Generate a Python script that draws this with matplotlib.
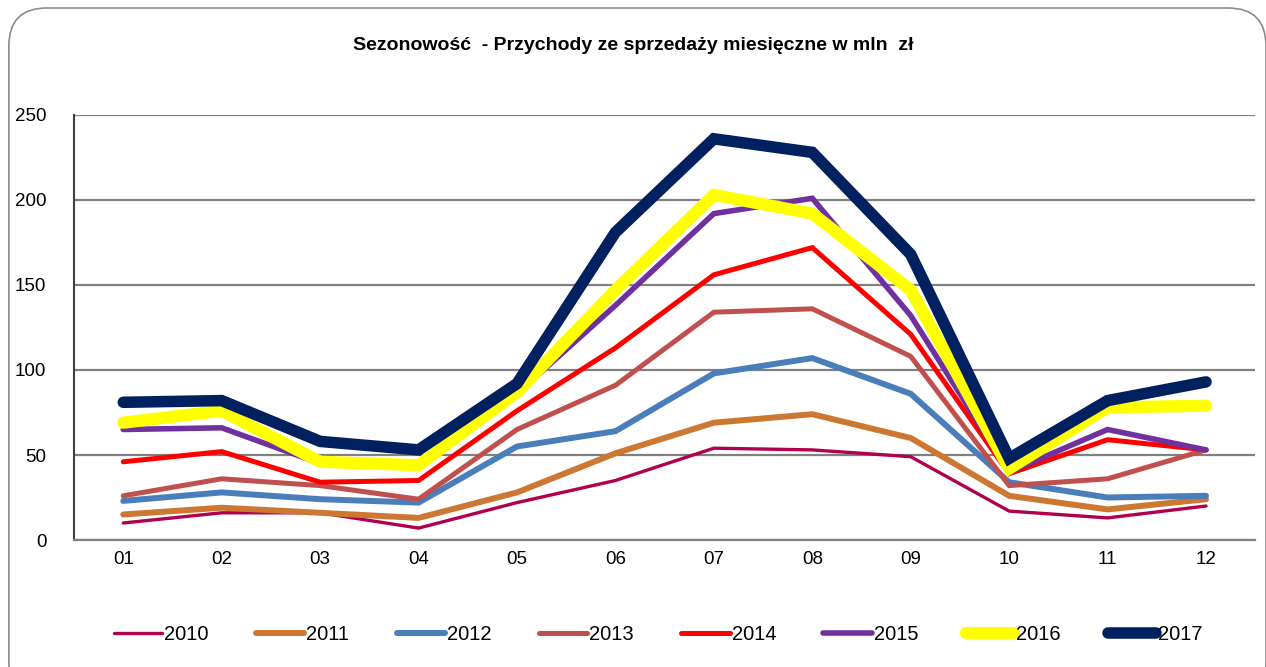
import matplotlib
matplotlib.use('Agg')
import matplotlib.pyplot as plt
from matplotlib.patches import FancyBboxPatch

plt.rcParams['font.family'] = ['Liberation Sans', 'DejaVu Sans']

months = ['01', '02', '03', '04', '05', '06', '07', '08', '09', '10', '11', '12']
years = ['2010', '2011', '2012', '2013', '2014', '2015', '2016', '2017']

v2010 = [10, 16, 16, 7, 22, 35, 54, 53, 49, 17, 13, 20]
v2011 = [15, 19, 16, 13, 28, 51, 69, 74, 60, 26, 18, 24]
v2012 = [23, 28, 24, 22, 55, 64, 98, 107, 86, 34, 25, 26]
v2013 = [26, 36, 32, 24, 65, 91, 134, 136, 108, 32, 36, 53]
v2014 = [46, 52, 34, 35, 76, 113, 156, 172, 121, 39, 59, 53]
v2015 = [65, 66, 45, 43, 86, 138, 192, 201, 132, 40, 65, 53]
v2016 = [69, 76, 46, 44, 87, 147, 203, 192, 147, 42, 78, 79]
v2017 = [81, 82, 58, 53, 92, 181, 236, 228, 168, 48, 82, 93]

series = [v2010, v2011, v2012, v2013, v2014, v2015, v2016, v2017]
colors = ['#B0004E', '#CC7832', '#4A7EBB', '#C0504D', '#FF0000', '#7030A0', '#FFFF00', '#002060']
widths = [2.4, 4.3, 4.3, 3.6, 3.6, 4.0, 8.8, 8.3]

fig = plt.figure(figsize=(12.66, 6.67), dpi=100)
ax = fig.add_axes([0.0585, 0.1904, 0.933, 0.6372])

x = list(range(len(months)))
for name, vals, c, w in zip(years, series, colors, widths):
    ax.plot(x, vals, color=c, lw=w, label=name, solid_capstyle='round', solid_joinstyle='miter')

ax.set_xlim(-0.5, 11.5)
ax.set_ylim(0, 250)
ax.set_yticks([0, 50, 100, 150, 200, 250])
ax.set_xticks(x)
ax.set_xticklabels(months)
ax.tick_params(axis='both', length=0, labelsize=13.5, pad=8)
ax.tick_params(axis='y', pad=20)
ax.yaxis.grid(True, color='#808080', lw=1.6)
ax.set_axisbelow(True)
for s in ['top', 'right']:
    ax.spines[s].set_visible(False)
ax.spines['left'].set_color('#404040')
ax.spines['left'].set_linewidth(1.5)
ax.spines['bottom'].set_color('#808080')
ax.spines['bottom'].set_linewidth(1.6)

fig.text(0.5, 0.932, 'Sezonowość  - Przychody ze sprzedaży miesięczne w mln  zł',
         ha='center', va='center', fontsize=14, fontweight='bold')

fig.legend(loc='center', bbox_to_anchor=(0.52, 0.049), ncol=8, frameon=False,
           fontsize=14.5, handlelength=2.4, columnspacing=2.35, handletextpad=0.1)

border = FancyBboxPatch((0.007, -0.05), 0.993, 1.038, boxstyle='round,pad=0,rounding_size=0.03',
                        transform=fig.transFigure, fill=False, ec='#8C8C8C', lw=1.2,
                        mutation_aspect=1.9)
fig.patches.append(border)

fig.savefig('out.png', dpi=100)
